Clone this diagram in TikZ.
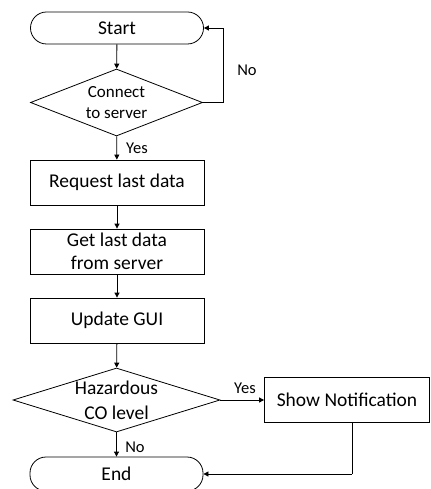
\documentclass[tikz,border=0pt]{standalone}
\usepackage{fontspec}
\setmainfont{Carlito}
\usetikzlibrary{arrows.meta,shapes.geometric}
\begin{document}
\begin{tikzpicture}[x=1bp,y=-1bp,
  line width=0.8bp,
  every node/.style={font=\fontsize{19.5bp}{23bp}\selectfont},
  term/.style={draw, rectangle, rounded corners=16bp, minimum width=173bp, minimum height=32bp, inner sep=0pt},
  proc/.style={draw, rectangle, minimum width=174bp, minimum height=45bp, inner sep=0pt, align=center},
  dec/.style={draw, diamond, inner sep=0pt},
  dtext/.style={align=center, inner sep=0pt},
  lbl/.style={inner sep=0pt, font=\fontsize{16.5bp}{19bp}\selectfont},
  arr/.style={-{Triangle[length=5bp,width=5bp]}}
]
\useasboundingbox (0,0) rectangle (430,489);
\node[term] (start) at (117,28) {Start};
\node[dec, minimum width=172bp, minimum height=67bp] (d1) at (116.5,102.5) {};
\node[dtext, font=\fontsize{17bp}{21.5bp}\selectfont] (d1t) at (116.5,102.5) {Connect\\to server};
\node[proc] (req) at (117,182.5) {Request last data};
\node[proc] (get) at (117,251.5) {Get last data\\from server};
\node[proc] (gui) at (117,320.5) {Update GUI};
\node[dec, minimum width=207bp, minimum height=64bp] (d2) at (116.5,400) {};
\node[dtext, font=\fontsize{19.5bp}{25bp}\selectfont] (d2t) at (116.5,400) {Hazardous\\CO level};
\node[proc, minimum width=165bp] (notif) at (347,400) {Show Notification};
\node[term, minimum height=34bp] (end) at (116.5,474) {End};

\coordinate (c1) at (223,102.5);
\coordinate (c2) at (223,28);
\coordinate (c3) at (352,474);

\draw[arr] (start) -- (d1);
\draw (d1.east) -- (c1) -- (c2);
\draw[arr] (c2) -- (start.east);
\node[lbl] (no1) at (247,70) {No};
\draw[arr] (d1) -- (req);
\node[lbl] (yes1) at (137,148) {Yes};
\draw[arr] (req) -- (get);
\draw[arr] (get) -- (gui);
\draw[arr] (gui) -- (d2);
\draw[arr] (d2.east) -- (notif.west);
\node[lbl] (yes2) at (245,388) {Yes};
\draw[arr] (d2) -- (end);
\node[lbl] (no2) at (135,447) {No};
\draw (notif.south -| c3) -- (c3);
\draw[arr] (c3) -- (end.east);
\end{tikzpicture}
\end{document}
